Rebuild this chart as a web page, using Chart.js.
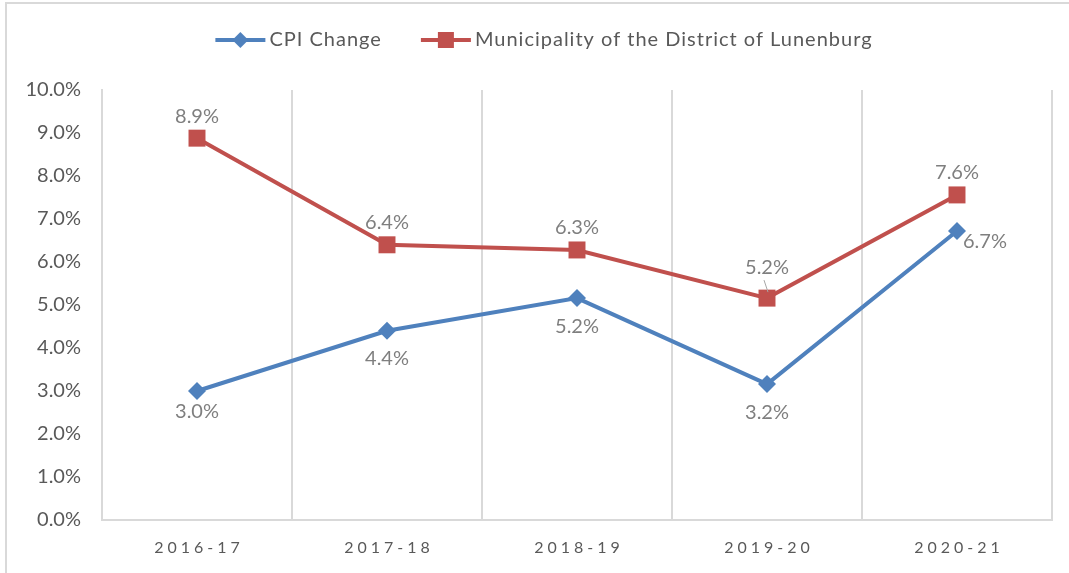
<!DOCTYPE html>
<html>
<head>
<meta charset="utf-8">
<script src="https://cdn.jsdelivr.net/npm/chart.js@4"></script>
<style>
  html, body { margin: 0; padding: 0; background: #fff; overflow: hidden; }
  #frame { position: absolute; left: 5px; top: 2px; width: 1100px; height: 620px; border: 2px solid #d9d9d9; box-sizing: border-box; }
  #wrap { position: absolute; left: 0; top: 0; width: 1069px; height: 573px; }
</style>
</head>
<body>
<div id="frame"></div>
<div id="wrap"><canvas id="chart" width="1069" height="573"></canvas></div>
<script>
// chart data
const categories = ['2016-17', '2017-18', '2018-19', '2019-20', '2020-21'];
const cpiChange = [3.0, 4.4, 5.16, 3.16, 6.72];
const lunenburg = [8.88, 6.4, 6.28, 5.16, 7.56];
const yTicks = [0, 1, 2, 3, 4, 5, 6, 7, 8, 9, 10];

const BLUE = '#4f81bd', RED = '#c0504d';
const FONT = 'Lato, "Open Sans", sans-serif';

// draws legend, x labels (letter spaced) and value labels
const extras = {
  id: 'extras',
  afterDatasetsDraw(chart) {
    const ctx = chart.ctx;
    ctx.save();
    ctx.font = '20px ' + FONT;
    ctx.fillStyle = '#7f7f7f';
    ctx.textAlign = 'center';
    ctx.textBaseline = 'middle';
    chart.data.datasets.forEach((ds, di) => {
      const meta = chart.getDatasetMeta(di);
      meta.data.forEach((pt, i) => {
        const txt = ds.data[i].toFixed(1) + '%';
        let x = pt.x, y = pt.y;
        if (di === 0) {
          if (i === ds.data.length - 1) { ctx.textAlign = 'left'; x += 6; y += 11; }
          else { ctx.textAlign = 'center'; y += (i === 0 ? 21 : 28); }
        } else {
          ctx.textAlign = 'center';
          if (i === 3) {
            y -= 31;
            ctx.save(); ctx.strokeStyle = '#a6a6a6'; ctx.lineWidth = 1;
            ctx.beginPath(); ctx.moveTo(pt.x - 3, pt.y - 18); ctx.lineTo(pt.x + 1, pt.y - 6); ctx.stroke(); ctx.restore();
          } else y -= 22;
        }
        ctx.fillText(txt, x, y);
      });
    });
    ctx.restore();
  },
  afterDraw(chart) {
    const ctx = chart.ctx, xs = chart.scales.x;
    ctx.save();
    // x labels
    ctx.font = '16px ' + FONT;
    ctx.fillStyle = '#595959';
    ctx.textBaseline = 'middle';
    ctx.textAlign = 'left';
    ctx.letterSpacing = '4px';
    categories.forEach((c, i) => {
      const w = ctx.measureText(c).width - 4;
      ctx.fillText(c, xs.getPixelForValue(i) - w / 2, 548);
    });
    // legend
    ctx.font = '20px ' + FONT;
    ctx.letterSpacing = '1px';
    const items = chart.data.datasets.map(ds => ({ ds, w: ctx.measureText(ds.label).width }));
    const total = items.reduce((s, it) => s + 54 + it.w, 0) + 39 * (items.length - 1);
    let x = 544 - total / 2;
    const ly = 40;
    items.forEach(it => {
      ctx.strokeStyle = it.ds.borderColor; ctx.lineWidth = 4;
      ctx.beginPath(); ctx.moveTo(x, ly); ctx.lineTo(x + 50, ly); ctx.stroke();
      ctx.fillStyle = it.ds.borderColor;
      const cx = x + 25;
      if (it.ds.pointStyle === 'rect') ctx.fillRect(cx - 8, ly - 8, 16, 16);
      else { ctx.beginPath(); ctx.moveTo(cx, ly - 8); ctx.lineTo(cx + 8, ly); ctx.lineTo(cx, ly + 8); ctx.lineTo(cx - 8, ly); ctx.closePath(); ctx.fill(); }
      ctx.fillStyle = '#595959';
      ctx.fillText(it.ds.label, x + 54, ly);
      x += 54 + it.w + 39;
    });
    ctx.letterSpacing = '0px';
    ctx.restore();
  }
};

new Chart(document.getElementById('chart'), {
  type: 'line',
  data: {
    labels: categories,
    datasets: [
      { label: 'CPI Change', data: cpiChange, borderColor: BLUE, backgroundColor: BLUE, borderWidth: 4, pointStyle: 'rectRot', pointRadius: 9, pointHoverRadius: 9, pointBorderWidth: 0, tension: 0 },
      { label: 'Municipality of the District of Lunenburg', data: lunenburg, borderColor: RED, backgroundColor: RED, borderWidth: 4, pointStyle: 'rect', pointRadius: 12, pointHoverRadius: 12, pointBorderWidth: 0, tension: 0 }
    ]
  },
  options: {
    responsive: false,
    animation: false,
    layout: { padding: { top: 90, right: 17, bottom: 0, left: 0 } },
    plugins: { legend: { display: false }, tooltip: { enabled: false } },
    scales: {
      x: {
        offset: true,
        grid: { display: true, offset: true, color: '#d9d9d9', lineWidth: 2, drawTicks: false },
        border: { display: true, color: '#d9d9d9', width: 2 },
        ticks: { display: false },
        afterFit(s) { s.height = 53; }
      },
      y: {
        min: 0, max: 10,
        afterBuildTicks(s) { s.ticks = yTicks.map(v => ({ value: v })); },
        grid: { display: false },
        border: { display: true, color: '#d9d9d9', width: 2 },
        ticks: { padding: 13, color: '#595959', font: { family: FONT, size: 20 }, callback: v => v.toFixed(1) + '%' },
        afterFit(s) { s.width = 102; }
      }
    }
  },
  plugins: [extras]
});
</script>
</body>
</html>
